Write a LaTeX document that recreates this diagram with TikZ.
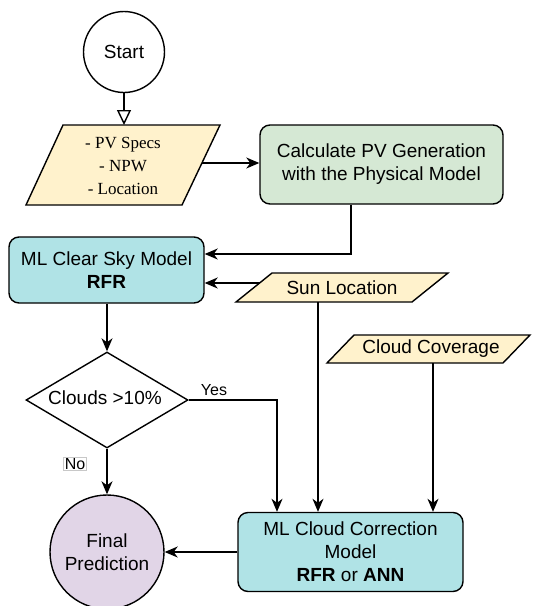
\documentclass[tikz,border=0pt]{standalone}
\usepackage{fontspec}
\setmainfont{Liberation Serif}
\setsansfont{Liberation Sans}
\usetikzlibrary{arrows.meta,shapes.geometric}
\definecolor{inyellow}{HTML}{FFF2CC}
\definecolor{calcgreen}{HTML}{D5E8D4}
\definecolor{mlcyan}{HTML}{B0E3E6}
\definecolor{endpurple}{HTML}{E1D5E7}
\definecolor{labelgrey}{HTML}{C8C8C8}

\begin{document}
\begin{tikzpicture}[x=1pt,y=-1pt,line width=1.4pt,
  sans/.style={font=\sffamily\fontsize{19}{23}\selectfont,align=center,inner sep=0pt},
  serif/.style={font=\rmfamily\fontsize{17}{23}\selectfont,align=center,inner sep=0pt},
  roundbox/.style={draw,rounded corners=10pt,sans},
  terminal/.style={draw,circle,sans},
  inbox/.style={draw,fill=inyellow,line join=miter},
  flow/.style={-{Stealth[length=13pt,width=11pt,inset=4pt]}},
  openflow/.style={-{Triangle[open,length=15pt,width=14pt]}},
  edgelabel/.style={font=\sffamily\fontsize{16}{18}\selectfont,inner sep=1pt}]

\useasboundingbox (0,0) rectangle (533,606);

% start / end terminals
\node[terminal,minimum size=81pt] (start) at (124,52) {Start};
\node[terminal,fill=endpurple,minimum size=114pt] (final) at (107,552) {Final\\Prediction};

% process boxes
\node[roundbox,fill=calcgreen,minimum width=243pt,minimum height=79pt] (calc) at (381.5,164.5)
  {Calculate PV Generation\\with the Physical Model};
\node[roundbox,fill=mlcyan,minimum width=195pt,minimum height=66pt] (clear) at (106.5,270)
  {ML Clear Sky Model\\\textbf{RFR}};
\node[roundbox,fill=mlcyan,minimum width=225pt,minimum height=79pt] (cc) at (350.5,552)
  {ML Cloud Correction\\Model\\\textbf{RFR} or \textbf{ANN}};

% decision
\node[draw,diamond,minimum width=162pt,minimum height=96pt,inner sep=0pt] (dec) at (107,400) {};
\node[sans] (dectext) at (105,398) {Clouds >10\%};

% input parallelograms
\draw[inbox] (63,125) -- (220,125) -- (182,205) -- (26,205) -- cycle;
\node[serif] (inp) at (123,166) {- PV Specs\\- NPW\\- Location};
\coordinate (inpT) at (124,125);
\coordinate (inpR) at (202,163);

\draw[inbox] (272,273) -- (448,273) -- (412,302) -- (236,302) -- cycle;
\node[sans] (sun) at (342,288) {Sun Location};
\coordinate (sunL) at (260,283);
\coordinate (sunB) at (318,302);

\draw[inbox] (354,335) -- (530,335) -- (503,363) -- (327,363) -- cycle;
\node[sans] (cloud) at (431,349) {Cloud Coverage};
\coordinate (cloudB) at (433,363);

% connectors
\draw[openflow] (start.south) -- (inpT);
\draw[flow] (inpR) -- (calc.west |- inpR);
\draw[flow] (calc.south -| 351,0) |- (clear.east |- 0,254);
\draw[flow] (sunL) -- (clear.east |- sunL);
\draw[flow] (clear.south -| dec.north) -- (dec.north);
\draw[flow] (dec.east) -| (cc.north -| 277,0);
\draw[flow] (dec.south) -- (final.north);
\draw[flow] (sunB) -- (cc.north -| sunB);
\draw[flow] (cloudB) -- (cc.north -| cloudB);
\draw[flow] (cc.west) -- (final.east);

\node[edgelabel] (yes) at (214,390) {Yes};
\node[edgelabel,draw=labelgrey,line width=0.6pt,fill=white] (no) at (75,464) {No};
\end{tikzpicture}
\end{document}
